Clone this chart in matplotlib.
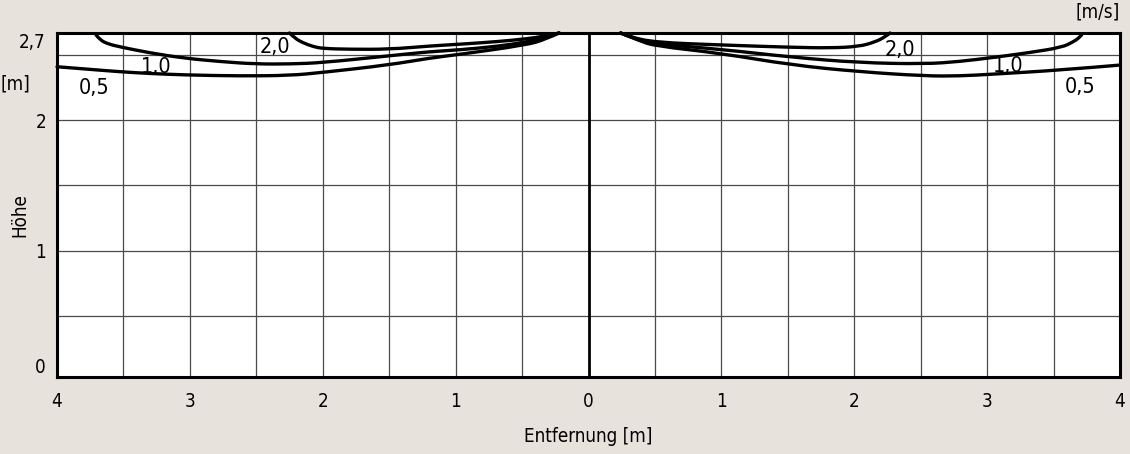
import matplotlib
matplotlib.use("Agg")
import matplotlib.pyplot as plt
from matplotlib import font_manager
from matplotlib.path import Path
from matplotlib.patches import PathPatch

# ---------------- data ----------------
# isovelocity contours (air speed [m/s]) — x: distance [m], y: height [m]
c20_left_x = [-2.25, -2.21, -2.15, -2.07, -2.00, -1.80, -1.50, -1.20, -0.95, -0.67, -0.47, -0.33, -0.22]
c20_left_y = [2.67, 2.63, 2.595, 2.565, 2.551, 2.545, 2.545, 2.57, 2.585, 2.605, 2.625, 2.645, 2.67]
c10_left_x = [-3.706, -3.676, -3.615, -3.533, -3.30, -3.036, -2.773, -2.51, -2.246, -2.005, -1.509,
              -1.193, -0.975, -0.666, -0.47, -0.327, -0.222]
c10_left_y = [2.655, 2.616, 2.586, 2.565, 2.517, 2.476, 2.451, 2.432, 2.432, 2.442, 2.494,
              2.527, 2.54, 2.57, 2.601, 2.635, 2.67]
c05_left_x = [-4.0, -3.789, -3.533, -3.30, -3.036, -2.622, -2.246, -2.005, -1.509, -1.193,
              -0.975, -0.47, -0.327, -0.222]
c05_left_y = [2.411, 2.394, 2.373, 2.359, 2.348, 2.34, 2.344, 2.367, 2.424, 2.478,
              2.505, 2.578, 2.62, 2.67]

c20_right_x = [0.242, 0.31, 0.50, 1.00, 1.53, 1.82, 2.035, 2.156, 2.231, 2.269]
c20_right_y = [2.67, 2.64, 2.598, 2.578, 2.56, 2.555, 2.566, 2.601, 2.639, 2.67]
c10_right_x = [0.242, 0.35, 0.50, 0.997, 1.531, 2.035, 2.532, 2.795, 3.059, 3.322, 3.563,
               3.646, 3.691, 3.711]
c10_right_y = [2.67, 2.624, 2.586, 2.545, 2.484, 2.442, 2.432, 2.451, 2.484, 2.52, 2.56,
               2.601, 2.632, 2.655]
c05_right_x = [0.242, 0.387, 0.50, 0.997, 1.531, 2.035, 2.532, 2.795, 3.059, 3.563, 4.0]
c05_right_y = [2.67, 2.609, 2.571, 2.514, 2.424, 2.373, 2.34, 2.34, 2.355, 2.386, 2.424]

curve_labels = ["2,0", "1,0", "0,5"]
label_left_x = [-2.36, -3.254, -3.72]
label_left_y = [2.563, 2.412, 2.248]
label_right_x = [2.344, 3.156, 3.698]
label_right_y = [2.543, 2.42, 2.252]

x_ticks = [-4, -3, -2, -1, 0, 1, 2, 3, 4]
x_tick_labels = ["4", "3", "2", "1", "0", "1", "2", "3", "4"]
y_ticks = [0.03, 1, 2, 2.67]
y_tick_labels = ["0", "1", "2", "2,7"]

# ---------------- style ----------------
names = {f.name for f in font_manager.fontManager.ttflist}
if "Liberation Sans Narrow" in names:
    FAM = ["Liberation Sans Narrow", "DejaVu Sans"]
    STRETCH = "normal"
else:
    FAM = ["DejaVu Sans"]
    STRETCH = "condensed"
plt.rcParams["font.family"] = FAM
plt.rcParams["font.stretch"] = STRETCH

BG = "#E8E2DC"
W, H = 1130, 454
fig = plt.figure(figsize=(W / 100, H / 100), dpi=100, facecolor=BG)
L, R, T, B = 57, 1120, 33, 377
ax = fig.add_axes([L / W, 1 - B / H, (R - L) / W, (B - T) / H])
ax.set_facecolor("white")
ax.set_xlim(-4, 4)
ax.set_ylim(0.03, 2.67)

# grid every 0.5 m
for gx in [v * 0.5 for v in range(-7, 8) if v != 0]:
    ax.axvline(gx, color="#4a4a4a", lw=0.9, zorder=1)
for gy in [0.5, 1.0, 1.5, 2.0, 2.5]:
    ax.axhline(gy, color="#4a4a4a", lw=0.9, zorder=1)
ax.axvline(0, color="black", lw=2.0, zorder=2)

for s in ax.spines.values():
    s.set_linewidth(2.2)
    s.set_color("black")
    s.set_zorder(5)


def smooth_path(xs, ys):
    """Quadratic B-spline style path through the read points (rendering only)."""
    pts = list(zip(xs, ys))
    verts = [pts[0]]
    codes = [Path.MOVETO]
    n = len(pts)
    for i in range(1, n - 1):
        ctrl = pts[i]
        if i < n - 2:
            end = ((pts[i][0] + pts[i + 1][0]) / 2, (pts[i][1] + pts[i + 1][1]) / 2)
        else:
            end = pts[-1]
        verts += [ctrl, end]
        codes += [Path.CURVE3, Path.CURVE3]
    return Path(verts, codes)


lw = 2.4
for xs, ys in [(c20_left_x, c20_left_y), (c10_left_x, c10_left_y), (c05_left_x, c05_left_y),
               (c20_right_x, c20_right_y), (c10_right_x, c10_right_y), (c05_right_x, c05_right_y)]:
    patch = PathPatch(smooth_path(xs, ys), facecolor="none", edgecolor="black", lw=lw,
                      capstyle="round", joinstyle="round", zorder=4, clip_on=False)
    ax.add_patch(patch)

for t, x, y in zip(curve_labels, label_left_x, label_left_y):
    ax.text(x, y, t, fontsize=15.5, ha="center", va="center", zorder=3)
for t, x, y in zip(curve_labels, label_right_x, label_right_y):
    ax.text(x, y, t, fontsize=15.5, ha="center", va="center", zorder=3)

ax.set_xticks(x_ticks)
ax.set_xticklabels(x_tick_labels)
ax.set_yticks(y_ticks)
ax.set_yticklabels(y_tick_labels)
ax.tick_params(axis="both", length=0, labelsize=13.5)
ax.tick_params(axis="x", pad=11)
ax.tick_params(axis="y", pad=8)
ylabs = ax.get_yticklabels()
ylabs[0].set_va("bottom")
ylabs[-1].set_va("top")

fig.text(15 / W, 1 - 84 / H, "[m]", fontsize=13.5, ha="center", va="center")
fig.text(20 / W, 1 - 215 / H, "Höhe", fontsize=13.5, ha="center", va="center", rotation=90)
fig.text(1120 / W, 1 - 12 / H, "[m/s]", fontsize=13.5, ha="right", va="center")
fig.text(588 / W, 1 - 437 / H, "Entfernung [m]", fontsize=13.5, ha="center", va="center")

fig.savefig("out.png", dpi=100, facecolor=BG)
